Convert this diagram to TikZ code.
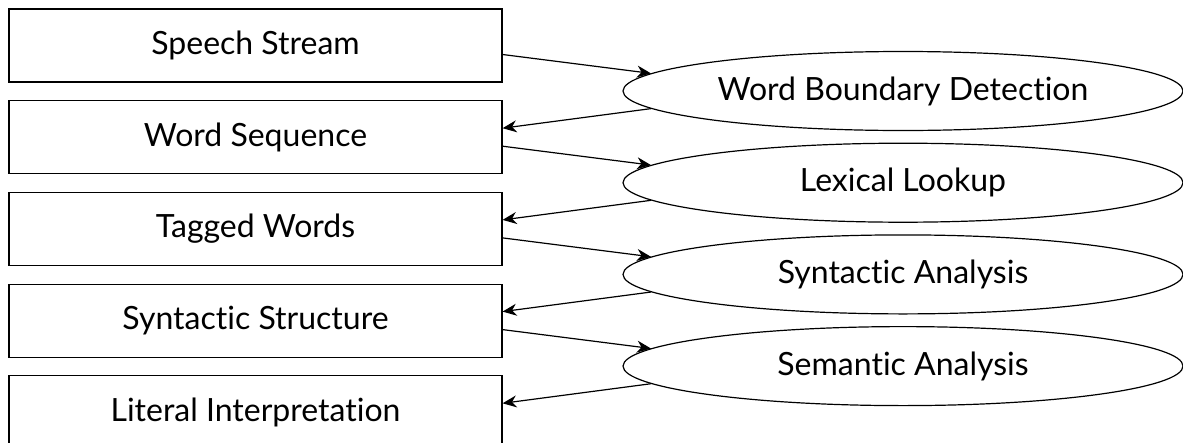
\documentclass[tikz,border=0pt]{standalone}
\usepackage{fontspec}
\setmainfont{Lato}[Ligatures={NoCommon,NoRare}]
\usepackage{tikz}
\usetikzlibrary{arrows.meta,positioning,shapes.geometric}

\begin{document}
\begin{tikzpicture}[
  x=1pt, y=-1pt,
  font=\fontsize{32}{36}\selectfont,
  node distance=17.5pt,
  box/.style={draw, line width=1.2pt, minimum width=493pt, minimum height=73pt, inner sep=0pt},
  proc/.style={draw, ellipse, line width=1.2pt, minimum width=560pt, minimum height=79pt, inner sep=0pt},
  arrow/.style={-{Stealth[length=14pt, width=12pt, inset=4.5pt]}, line width=1.2pt}
]
  \useasboundingbox (0,0) rectangle (1183,442);

  % representations on the left
  \node[box] (speech) at (255.5,45.5) {Speech Stream};
  \node[box, below=of speech] (words) {Word Sequence};
  \node[box, below=of words] (tagged) {Tagged Words};
  \node[box, below=of tagged] (syntax) {Syntactic Structure};
  \node[box, below=of syntax] (literal) {Literal Interpretation};

  % processing steps on the right
  \node[proc] (boundary) at (903,91) {Word Boundary Detection};
  \node[proc, below=11.5pt of boundary] (lookup) {Lexical Lookup};
  \node[proc, below=11.5pt of lookup] (parse) {Syntactic Analysis};
  \node[proc, below=11.5pt of parse] (semantic) {Semantic Analysis};

  \draw[arrow] ([yshift=-9pt]speech.east) -- (boundary.176.7);
  \draw[arrow] (boundary.184) -- ([yshift=9pt]words.east);
  \draw[arrow] ([yshift=-9pt]words.east) -- (lookup.176.7);
  \draw[arrow] (lookup.184) -- ([yshift=9pt]tagged.east);
  \draw[arrow] ([yshift=-9pt]tagged.east) -- (parse.176.7);
  \draw[arrow] (parse.184) -- ([yshift=9pt]syntax.east);
  \draw[arrow] ([yshift=-9pt]syntax.east) -- (semantic.176.7);
  \draw[arrow] (semantic.184) -- ([yshift=9pt]literal.east);
\end{tikzpicture}
\end{document}
